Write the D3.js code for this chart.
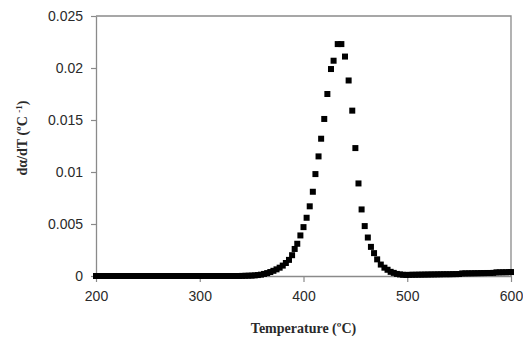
<!DOCTYPE html>
<html>
<head>
<meta charset="utf-8">
<script src="https://cdn.jsdelivr.net/npm/d3@7"></script>
<style>
  html, body { margin: 0; padding: 0; background: #fff; }
  svg { display: block; }
</style>
</head>
<body>
<svg id="chart" width="523" height="343"></svg>
<script>
// ---- data ----
const temperature = [
  200,203,206,209,212,215,218,221,224,227,230,233,236,239,242,245,248,251,254,257,
  260,263,266,269,272,275,278,281,284,287,290,293,296,299,302,305,308,311,314,317,
  320,323,326,329,332,335,338,341,344,347,350,353,356,359,362,365,368,371,374,377,
  380,383,386,389,391.5,394,397,400,403,406,409,411.5,414.5,417,420,423,426.5,429,433,436.5,
  440,443.5,447,450,453,456,459,462,465,468,471,474.5,478,481,484,487,490,493,496,499,
  502,505,508,511,514,517,520,523,526,529,532,535,538,541,544,547,550,553,556,559,
  562,565,568,571,574,577,580,583,586,589,592,595,598,600
];
const dadt = [
  0,0,0,0,0,0,0,0,0,0,0,0,0,0,0,0,0,0,0,0,
  0,0,0,0,0,0,0,0,0,0,0,0,0,0,0,0,0,0,0,0,
  0,0,0,0,0,0,0,0.00001,0.00002,0.00003,0.00004,0.00006,0.00009,0.00013,0.0002,0.00028,0.00038,0.0005,0.00064,0.0008,
  0.001,0.00125,0.00155,0.002,0.0026,0.0031,0.0039,0.0047,0.0056,0.0067,0.0081,0.0098,0.0115,0.0132,0.0151,0.0175,0.0199,0.0207,0.0223,0.0223,
  0.0211,0.0188,0.0159,0.0123,0.0089,0.0064,0.0048,0.0037,0.0028,0.0022,0.0016,0.0011,0.0008,0.0006,0.0004,0.0003,0.0002,0.00015,0.00012,0.0001,
  0.00011,0.00012,0.00012,0.00013,0.00013,0.00014,0.00014,0.00015,0.00015,0.00016,0.00016,0.00017,0.00017,0.00017,0.00018,0.00018,0.00019,0.00025,0.00025,0.00026,
  0.00026,0.00027,0.00027,0.00028,0.00028,0.00029,0.00029,0.0003,0.00035,0.00035,0.00036,0.00036,0.00037,0.00038
];
const xTicks = [200, 300, 400, 500, 600];
const yTicks = [0, 0.005, 0.01, 0.015, 0.02, 0.025];
const yTickLabels = ["0", "0.005", "0.01", "0.015", "0.02", "0.025"];
const xTitle = "Temperature (ºC)";

// ---- layout ----
const svg = d3.select("#chart");
const W = 523, H = 343;
const m = { left: 96, right: 12, top: 16, bottom: 67 };
const pw = W - m.left - m.right, ph = H - m.top - m.bottom;

const x = d3.scaleLinear().domain([200, 600]).range([m.left, m.left + pw]);
const y = d3.scaleLinear().domain([0, 0.025]).range([m.top + ph, m.top]);

const axisColor = "#8a8a8a";
const textColor = "#2a2a2a";

// plot frame (top & right)
svg.append("path")
  .attr("d", `M${m.left},${m.top}H${m.left + pw}V${m.top + ph}`)
  .attr("fill", "none").attr("stroke", axisColor).attr("stroke-width", 1.3);

// y axis
const gy = svg.append("g").attr("transform", `translate(${m.left},0)`)
  .call(d3.axisLeft(y).tickValues(yTicks)
    .tickFormat((d, i) => yTickLabels[i])
    .tickSizeInner(5).tickSizeOuter(0).tickPadding(8));
// x axis
const gx = svg.append("g").attr("transform", `translate(0,${m.top + ph})`)
  .call(d3.axisBottom(x).tickValues(xTicks).tickFormat(d3.format("d"))
    .tickSizeInner(6).tickSizeOuter(0).tickPadding(9));

[gx, gy].forEach(g => {
  g.select(".domain").attr("stroke", axisColor).attr("stroke-width", 1.3);
  g.selectAll(".tick line").attr("stroke", axisColor).attr("stroke-width", 1.2);
  g.selectAll(".tick text")
    .attr("fill", textColor)
    .style("font-family", "'Liberation Sans', Arial, sans-serif")
    .style("font-size", "14px");
});

// data markers
svg.append("g").selectAll("rect")
  .data(temperature.map((t, i) => [t, dadt[i]]))
  .join("rect")
  .attr("x", d => x(d[0]) - 3)
  .attr("y", d => y(d[1]) - 3)
  .attr("width", 6).attr("height", 6)
  .attr("fill", "#000");

// axis titles
svg.append("text")
  .attr("x", m.left + pw / 2).attr("y", 333)
  .attr("text-anchor", "middle")
  .attr("fill", textColor)
  .style("font-family", "'Liberation Serif', 'Times New Roman', serif")
  .style("font-weight", "bold").style("font-size", "14px")
  .text(xTitle);

const yt = svg.append("text")
  .attr("transform", `translate(27,${m.top + ph / 2 - 8}) rotate(-90)`)
  .attr("text-anchor", "middle")
  .attr("fill", textColor)
  .style("font-family", "'Liberation Serif', 'Times New Roman', serif")
  .style("font-weight", "bold").style("font-size", "14px");
yt.append("tspan").text("dα/dT (ºC ");
yt.append("tspan").attr("dy", -5).style("font-size", "9px").text("-1");
yt.append("tspan").attr("dy", 5).text(")");
</script>
</body>
</html>
